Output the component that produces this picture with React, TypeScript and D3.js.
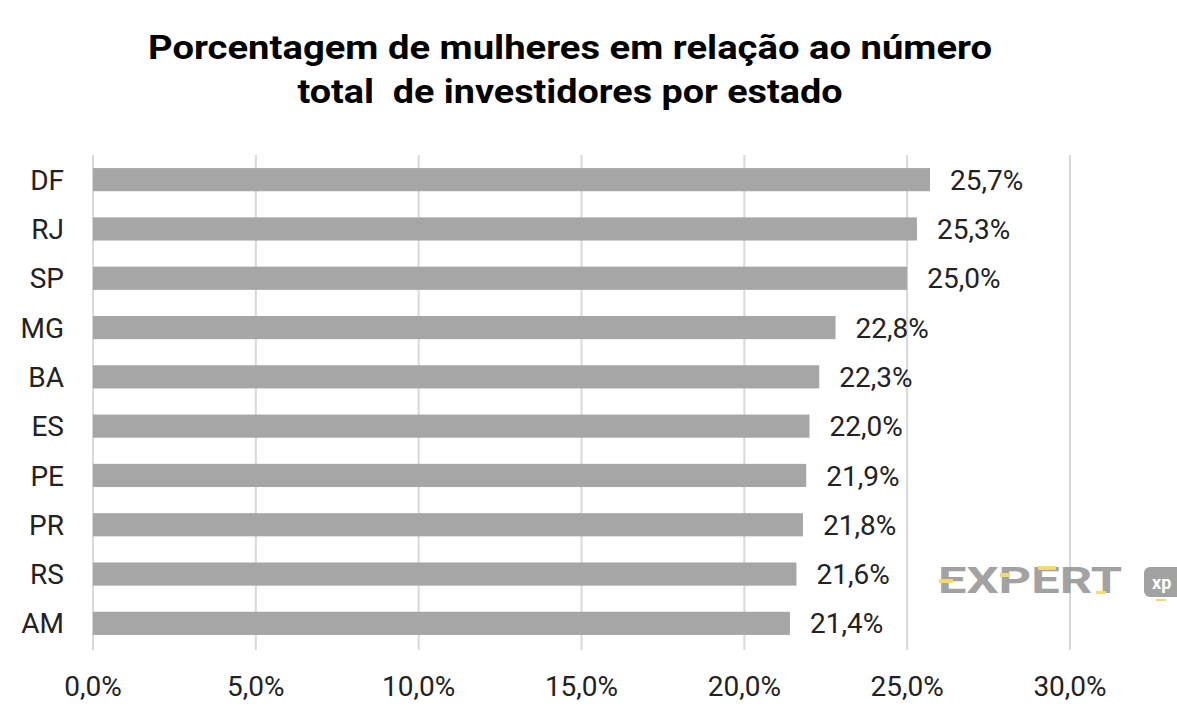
import React from "react";
import * as d3 from "d3";

const states = ["DF", "RJ", "SP", "MG", "BA", "ES", "PE", "PR", "RS", "AM"];
const values = [25.7, 25.3, 25.0, 22.8, 22.3, 22.0, 21.9, 21.8, 21.6, 21.4];
const ticks = [0, 5, 10, 15, 20, 25, 30];
const titleLines = ["Porcentagem de mulheres em relação ao número", "total  de investidores por estado"];

const W = 1177;
const H = 723;

const fmt = (v: number) => v.toFixed(1).replace(".", ",") + "%";

export default function App() {
  const x = d3.scaleLinear().domain([0, 30]).range([93, 1070]);
  const y = d3.scaleBand<string>().domain(states).range([155, 648]).paddingInner(0.53).paddingOuter(0.265);
  const font = "Roboto, 'Noto Sans', sans-serif";
  const titleWidths = [844, 545];
  const titleY = [59, 103];
  return (
    <svg width={W} height={H} style={{ position: "absolute", left: 0, top: 0, background: "#fff" }}>
      <rect x={0} y={0} width={W} height={H} fill="#fff" />
      {titleLines.map((t, i) => (
        <text key={i} x={570} y={titleY[i]} textAnchor="middle" fontFamily={font} fontWeight={700} fontSize={34} fill="#000" textLength={titleWidths[i]} lengthAdjust="spacingAndGlyphs" style={{ whiteSpace: "pre" }}>
          {t}
        </text>
      ))}
      {ticks.map((t) => (
        <g key={t}>
          <line x1={x(t)} x2={x(t)} y1={155} y2={650} stroke="#d9d9d9" strokeWidth={2} />
          <text x={x(t)} y={696} textAnchor="middle" fontFamily={font} fontSize={28} fill="#222">
            {fmt(t)}
          </text>
        </g>
      ))}
      {states.map((s, i) => {
        const yy = y(s)!;
        const bh = y.bandwidth();
        return (
          <g key={s}>
            <rect x={x(0)} y={yy} width={x(values[i]) - x(0)} height={bh} fill="#a6a6a6" />
            <text x={64} y={yy + bh / 2} dy="0.36em" textAnchor="end" fontFamily={font} fontSize={28} fill="#222">
              {s}
            </text>
            <text x={x(values[i]) + 20} y={yy + bh / 2} dy="0.36em" textAnchor="start" fontFamily={font} fontSize={28} fill="#222">
              {fmt(values[i])}
            </text>
          </g>
        );
      })}
      <g opacity={0.8}>
        <text x={938} y={593} fontFamily={font} fontWeight={700} fontSize={36} textLength={184} lengthAdjust="spacingAndGlyphs" fill="#8c8c8c">
          EXPERT
        </text>
        <rect x={939} y={579} width={14} height={4} fill="#f5d04a" />
        <rect x={1000} y={573} width={10} height={4} fill="#f5d04a" />
        <rect x={1038} y={566} width={18} height={4} fill="#f5d04a" />
        <rect x={1096} y={591} width={10} height={3} fill="#f5d04a" />
        <rect x={1144} y={567} width={40} height={30} rx={6} fill="#8c8c8c" />
        <text x={1152} y={589} fontFamily={font} fontWeight={700} fontSize={18} fill="#fff">
          xp
        </text>
        <rect x={1156} y={599} width={10} height={2} fill="#f5d04a" />
      </g>
    </svg>
  );
}
